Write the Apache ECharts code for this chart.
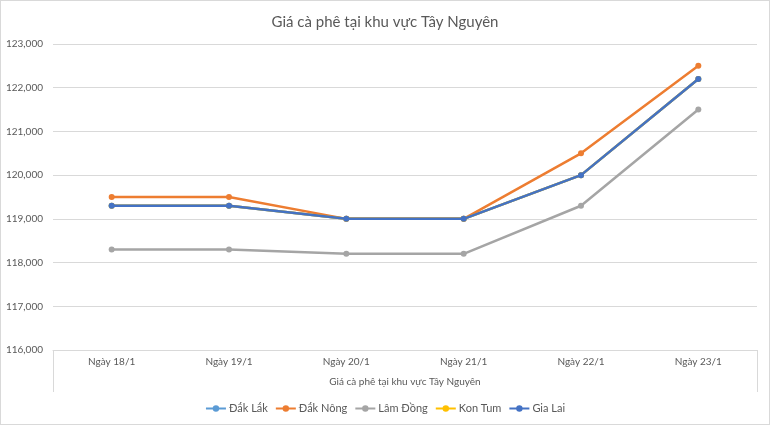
<!DOCTYPE html>
<html>
<head>
<meta charset="utf-8">
<script src="https://cdn.jsdelivr.net/npm/echarts@6/dist/echarts.min.js"></script>
<style>
html,body{margin:0;padding:0;background:#fff;}
#wrap{width:768px;height:423px;border:1px solid #d9d9d9;}
#chart{width:768px;height:423px;}
</style>
</head>
<body>
<div id="wrap"><div id="chart"></div></div>
<script>
const categories = ['Ngày 18/1', 'Ngày 19/1', 'Ngày 20/1', 'Ngày 21/1', 'Ngày 22/1', 'Ngày 23/1'];
const dakLak   = [119300, 119300, 119000, 119000, 120000, 122200];
const dakNong  = [119500, 119500, 119000, 119000, 120500, 122500];
const lamDong  = [118300, 118300, 118200, 118200, 119300, 121500];
const konTum   = [119300, 119300, 119000, 119000, 120000, 122200];
const giaLai   = [119300, 119300, 119000, 119000, 120000, 122200];
const seriesNames = ['Đắk Lắk', 'Đắk Nông', 'Lâm Đồng', 'Kon Tum', 'Gia Lai'];
const seriesData = [dakLak, dakNong, lamDong, konTum, giaLai];
const colors = ['#5B9BD5', '#ED7D31', '#A5A5A5', '#FFC000', '#4472C4'];
const yMin = 116000, yMax = 123000, yStep = 1000;

const FONT = 'Lato, "Open Sans", sans-serif';
const chart = echarts.init(document.getElementById('chart'), null, {renderer: 'canvas'});
chart.setOption({
  animation: false,
  backgroundColor: '#fff',
  color: colors,
  title: {
    text: 'Giá cà phê tại khu vực Tây Nguyên',
    left: 'center',
    top: 9,
    textStyle: {fontFamily: FONT, fontSize: 15, fontWeight: 'normal', color: '#595959'}
  },
  legend: {
    data: seriesNames,
    bottom: 10,
    left: 'center',
    itemWidth: 20,
    itemHeight: 8,
    itemGap: 7,
    textStyle: {fontFamily: FONT, fontSize: 11, color: '#595959', padding: [0, 0, 0, -2]},
    padding: 0
  },
  grid: {left: 52, right: 12, top: 43, bottom: 74, containLabel: false},
  xAxis: {
    type: 'category',
    data: categories,
    boundaryGap: true,
    name: 'Giá cà phê tại khu vực Tây Nguyên',
    nameLocation: 'middle',
    nameGap: 27,
    nameTextStyle: {fontFamily: FONT, fontSize: 10, color: '#595959'},
    axisLine: {show: true, lineStyle: {color: '#d9d9d9', width: 1}},
    axisTick: {show: true, length: 42, interval: function (i) { return i === 0; }, lineStyle: {color: '#d9d9d9', width: 1}},
    axisLabel: {fontFamily: FONT, fontSize: 10, color: '#595959', margin: 7, interval: 0},
    splitLine: {show: false}
  },
  yAxis: {
    type: 'value',
    min: yMin,
    max: yMax,
    interval: yStep,
    axisLine: {show: false},
    axisTick: {show: false},
    axisLabel: {
      fontFamily: FONT, fontSize: 10, color: '#595959', margin: 10,
      formatter: function (v) { return v.toLocaleString('en-US'); }
    },
    splitLine: {show: true, lineStyle: {color: '#d9d9d9', width: 1}}
  },
  series: seriesNames.map(function (name, i) {
    return {
      name: name,
      type: 'line',
      data: seriesData[i],
      symbol: 'circle',
      symbolSize: 6,
      lineStyle: {width: 2.5, color: colors[i]},
      itemStyle: {color: colors[i]},
      z: 2 + i
    };
  })
});
</script>
</body>
</html>
